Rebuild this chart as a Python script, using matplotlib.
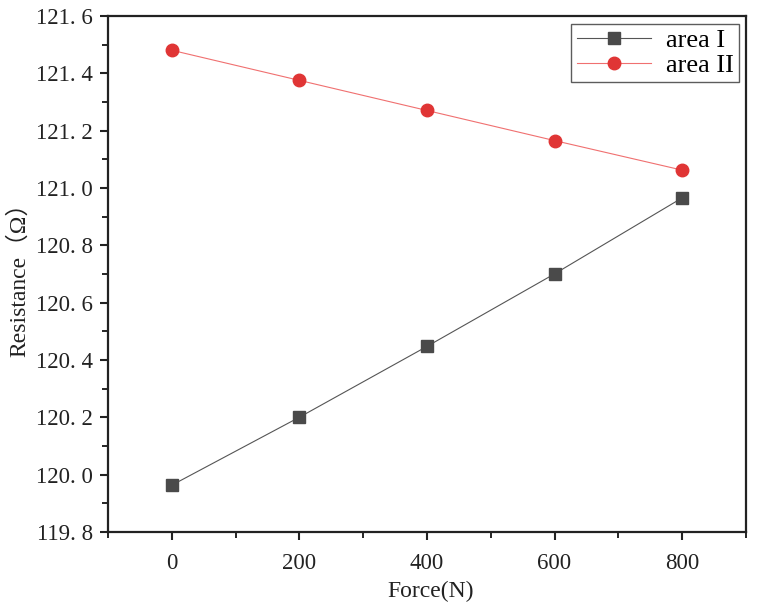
import matplotlib.pyplot as plt
from matplotlib.ticker import MultipleLocator, FuncFormatter

# data
force = [0, 200, 400, 600, 800]
area1 = [119.963, 120.200, 120.447, 120.700, 120.965]
area2 = [121.480, 121.375, 121.270, 121.165, 121.062]

plt.rcParams['font.family'] = ['Liberation Serif', 'Noto Sans CJK SC', 'DejaVu Sans']

fig = plt.figure(figsize=(7.58, 6.10), dpi=100)
ax = fig.add_axes([0.1425, 0.128, 0.8415, 0.846])

ax.plot(force, area1, color='#555555', lw=0.8, marker='s', ms=8,
        mfc='#4a4a4a', mec='#4a4a4a', label='area I')
ax.plot(force, area2, color='#f07070', lw=0.8, marker='o', ms=9,
        mfc='#e03535', mec='#e03535', label='area II')

ax.set_xlim(-100, 900)
ax.set_ylim(119.8, 121.6)
ax.xaxis.set_major_locator(MultipleLocator(200))
ax.xaxis.set_minor_locator(MultipleLocator(100))
ax.yaxis.set_major_locator(MultipleLocator(0.2))
ax.yaxis.set_minor_locator(MultipleLocator(0.1))
ax.yaxis.set_major_formatter(FuncFormatter(lambda v, p: ('%.1f' % v).replace('.', '. ')))

ax.tick_params(which='major', direction='out', length=6, width=1.5, labelsize=16.5,
               colors='#222222', pad=5)
ax.tick_params(axis='x', which='major', pad=9)
ax.tick_params(which='minor', direction='out', length=4, width=1.2)
for s in ax.spines.values():
    s.set_linewidth(1.6)
    s.set_color('#222222')

ax.set_xlabel('Force(N)', fontsize=17, color='#222222')
ax.set_ylabel('Resistance（Ω）', fontsize=17, color='#222222')
ax.xaxis.set_label_coords(0.505, -0.095)
ax.yaxis.set_label_coords(-0.122, 0.5)

leg = ax.legend(loc='upper right', fontsize=19, frameon=True, fancybox=False,
                edgecolor='#333333', handlelength=2.8, borderpad=0.2,
                labelspacing=0.05, handletextpad=0.6, borderaxespad=0,
                bbox_to_anchor=(0.99, 0.985))
leg.get_frame().set_linewidth(1.0)

fig.savefig('out.png', dpi=100)
